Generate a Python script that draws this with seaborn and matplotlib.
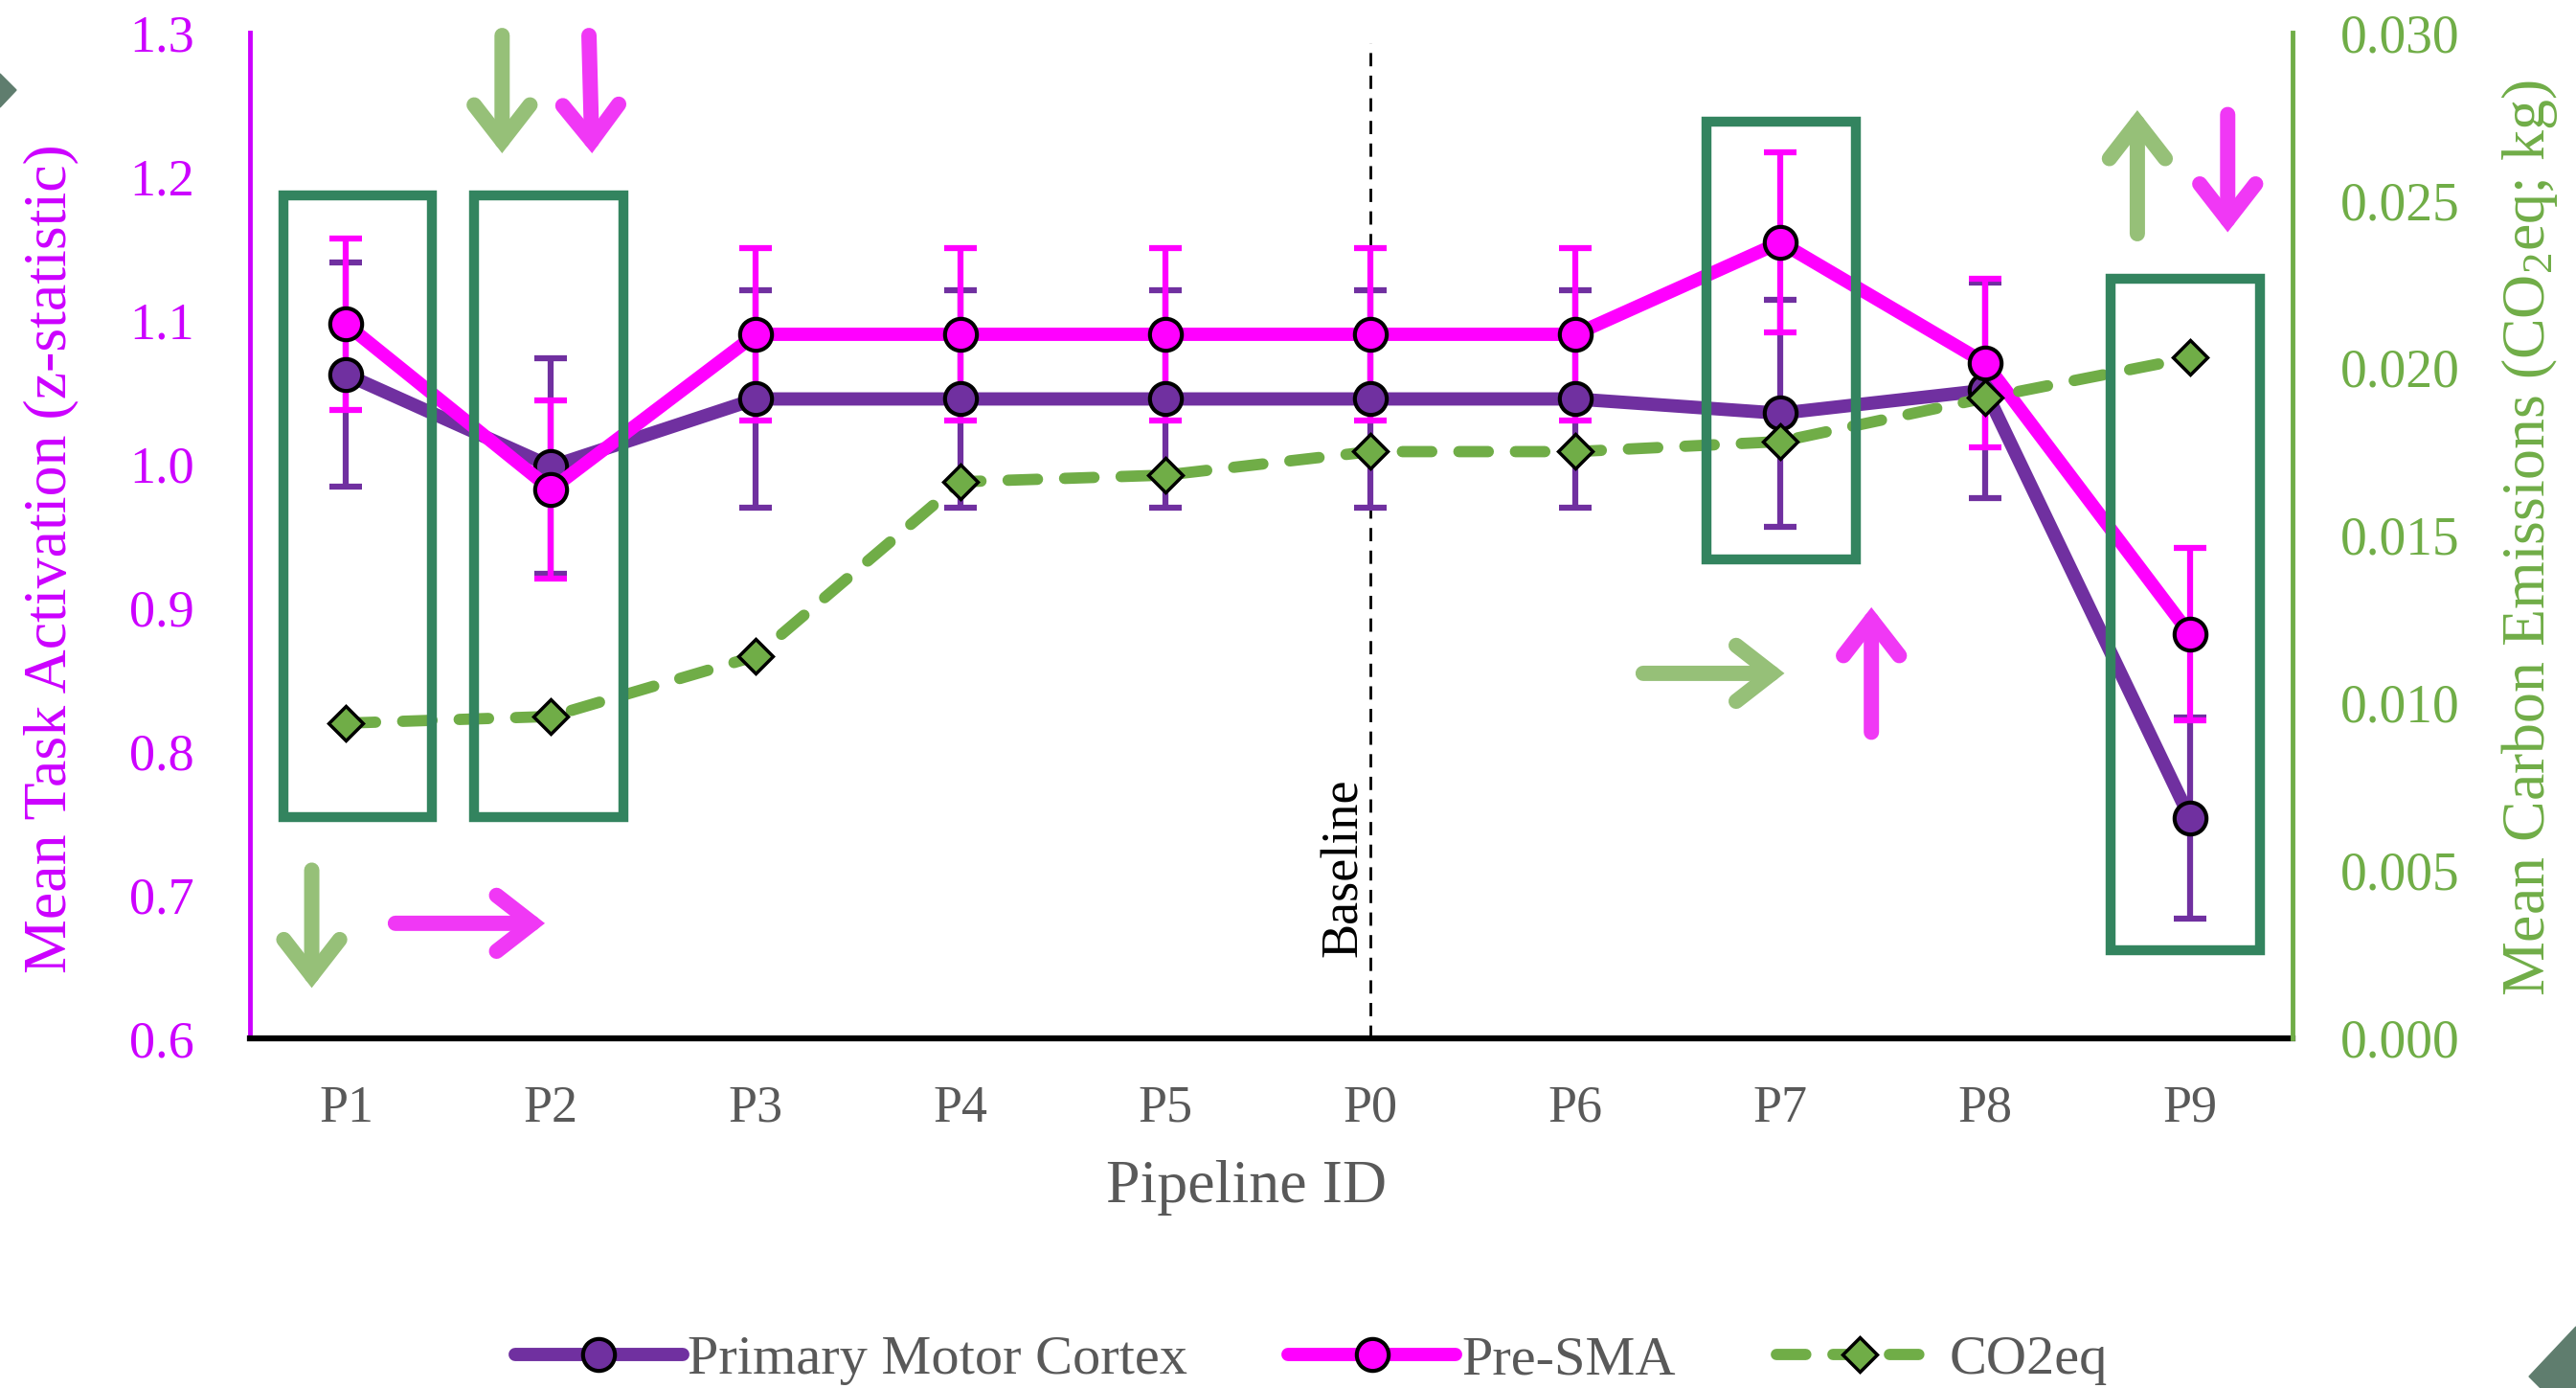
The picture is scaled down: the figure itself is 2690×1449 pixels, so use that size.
import numpy as np
import pandas as pd
import matplotlib
matplotlib.use("Agg")
import matplotlib.pyplot as plt
from matplotlib.ticker import FormatStrFormatter
from matplotlib.patches import Rectangle, Polygon, FancyArrowPatch, ArrowStyle
import seaborn as sns

# ---------------- data ----------------
pipelines = ["P1", "P2", "P3", "P4", "P5", "P0", "P6", "P7", "P8", "P9"]
pmc_mean = [1.062, 0.998, 1.045, 1.045, 1.045, 1.045, 1.045, 1.035, 1.051, 0.753]
pmc_err = [0.078, 0.075, 0.076, 0.076, 0.076, 0.076, 0.076, 0.079, 0.075, 0.070]
presma_mean = [1.097, 0.982, 1.090, 1.090, 1.090, 1.090, 1.090, 1.154, 1.070, 0.881]
presma_err = [0.060, 0.062, 0.060, 0.060, 0.060, 0.060, 0.060, 0.063, 0.059, 0.060]
co2_mean = [0.0094, 0.0096, 0.0114, 0.0166, 0.0168, 0.0175, 0.0175, 0.0178, 0.0191, 0.0203]

left_ticks = [0.6, 0.7, 0.8, 0.9, 1.0, 1.1, 1.2, 1.3]
right_ticks = [0.000, 0.005, 0.010, 0.015, 0.020, 0.025, 0.030]

series_labels = ["Primary Motor Cortex", "Pre-SMA", "CO2eq"]

# annotation boxes (x, y, width, height) in left-axis data units
boxes = [(-0.305, 0.754, 0.722, 0.433),
         (0.625, 0.754, 0.729, 0.433),
         (6.64, 0.933, 0.73, 0.305),
         (8.61, 0.661, 0.73, 0.468)]

# annotation arrows (x0, y0, x1, y1, kind)
arrows = [(0.761, 1.298, 0.761, 1.216, "g"),
          (1.185, 1.298, 1.200, 1.216, "m"),
          (-0.168, 0.717, -0.168, 0.635, "g"),
          (0.240, 0.680, 0.970, 0.680, "m"),
          (6.33, 0.854, 7.02, 0.854, "g"),
          (7.444, 0.813, 7.444, 0.900, "m"),
          (8.742, 1.160, 8.742, 1.246, "g"),
          (9.183, 1.243, 9.183, 1.161, "m")]

# ---------------- style ----------------
sns.set_theme(style="white")
plt.rcParams["font.family"] = ["Liberation Serif", "DejaVu Serif"]
plt.rcParams["mathtext.fontset"] = "custom"
plt.rcParams["mathtext.rm"] = "Liberation Serif"
plt.rcParams["mathtext.it"] = "Liberation Serif:italic"
plt.rcParams["mathtext.bf"] = "Liberation Serif:bold"

PURPLE = "#7030A0"
MAGENTA = "#FF00FF"
GREEN = "#70AD47"
AXIS_MAG = "#CC00FF"
GRAY = "#595959"
BOX = "#33845F"
ARR = {"g": "#96C078", "m": "#F038F5"}
DECO = "#5F7D6E"

fig = plt.figure(figsize=(26.9, 14.49), dpi=100)
ax1 = fig.add_axes([0.097, 0.252, 0.793, 0.7245])
ax2 = ax1.twinx()

df = pd.DataFrame({
    "pos": np.arange(len(pipelines)),
    "Pipeline": pipelines,
    "pmc": pmc_mean,
    "presma": presma_mean,
    "co2": co2_mean,
})

# error bars
ax1.errorbar(df["pos"], pmc_mean, yerr=pmc_err, fmt="none", ecolor=PURPLE,
             elinewidth=4.5, capsize=12, capthick=4.5, zorder=2)
ax1.errorbar(df["pos"], presma_mean, yerr=presma_err, fmt="none", ecolor=MAGENTA,
             elinewidth=4.5, capsize=12, capthick=4.5, zorder=2.5)

# lines
sns.lineplot(data=df, x="pos", y="pmc", ax=ax1, color=PURPLE, linewidth=10,
             marker="o", markersize=24, markeredgecolor="black", markeredgewidth=3,
             sort=False, label=series_labels[0], zorder=3)
sns.lineplot(data=df, x="pos", y="presma", ax=ax1, color=MAGENTA, linewidth=10,
             marker="o", markersize=24, markeredgecolor="black", markeredgewidth=3,
             sort=False, label=series_labels[1], zorder=3.5)
sns.lineplot(data=df, x="pos", y="co2", ax=ax2, color=GREEN, linewidth=8.5,
             marker="D", markersize=18, markeredgecolor="black", markeredgewidth=2.5,
             markerfacecolor=GREEN, sort=False, label=series_labels[2], zorder=3)
co2_line = ax2.lines[-1]
co2_line.set_dashes((2.6, 2.4))
co2_line.set_dash_capstyle("round")

for ax in (ax1, ax2):
    leg = ax.get_legend()
    if leg is not None:
        leg.remove()
    ax.grid(False)

# baseline marker
ax1.axvline(x=pipelines.index("P0"), ymin=0, ymax=0.99, color="black", lw=2,
            linestyle=(0, (5, 3.5)), zorder=1.5)
ax1.text(4.872, 0.719, "Baseline", rotation=90, ha="center", va="center",
         fontsize=39, color="black", zorder=6)

# annotation boxes
for (x, y, w, h) in boxes:
    ax2.add_artist(Rectangle((x, y), w, h, transform=ax1.transData, fill=False,
                             edgecolor=BOX, lw=7.5, zorder=10, clip_on=False))

# annotation arrows
for (x0, y0, x1, y1, k) in arrows:
    arr = FancyArrowPatch((x0, y0), (x1, y1), transform=ax1.transData,
                          arrowstyle=ArrowStyle("->", head_length=27, head_width=21),
                          mutation_scale=1, lw=11.5, color=ARR[k],
                          joinstyle="miter", capstyle="round",
                          shrinkA=0, shrinkB=0, clip_on=False, zorder=11)
    ax2.add_artist(arr)

# axes limits and ticks
ax1.set_xlim(-0.47, 9.5)
ax1.set_ylim(left_ticks[0], left_ticks[-1])
ax2.set_ylim(right_ticks[0], right_ticks[-1])
ax1.set_xticks(df["pos"])
ax1.set_xticklabels(pipelines)
ax1.set_yticks(left_ticks)
ax2.set_yticks(right_ticks)
ax1.yaxis.set_major_formatter(FormatStrFormatter("%.1f"))
ax2.yaxis.set_major_formatter(FormatStrFormatter("%.3f"))

ax1.tick_params(axis="y", labelcolor=AXIS_MAG, labelsize=39, length=0, pad=42)
ax1.tick_params(axis="x", labelcolor=GRAY, labelsize=39, length=0, pad=35)
ax2.tick_params(axis="y", labelcolor=GREEN, labelsize=40, length=0, pad=36)

# spines
for s in ("top", "right"):
    ax1.spines[s].set_visible(False)
ax1.spines["left"].set_color(AXIS_MAG)
ax1.spines["left"].set_linewidth(3.5)
ax1.spines["bottom"].set_color("black")
ax1.spines["bottom"].set_linewidth(4.5)
for s in ("top", "left", "bottom"):
    ax2.spines[s].set_visible(False)
ax2.spines["right"].set_color(GREEN)
ax2.spines["right"].set_linewidth(3.5)

# labels
ax1.set_ylabel("Mean Task Activation (z-statistic)", color=AXIS_MAG, fontsize=46)
ax1.yaxis.set_label_coords(-0.0839, 0.477)
ax2.set_ylabel(r"Mean Carbon Emissions (CO$_{2}$eq; kg)", color=GREEN, fontsize=46)
ax2.yaxis.set_label_coords(1.101, 0.497)
ax1.set_xlabel("Pipeline ID", color=GRAY, fontsize=46)
ax1.xaxis.set_label_coords(0.488, -0.121)

# legend
h1, l1 = ax1.get_legend_handles_labels()
h2, l2 = ax2.get_legend_handles_labels()
fig.legend(h1 + h2, l1 + l2, loc="center", bbox_to_anchor=(0.509, 0.020), ncol=3,
           frameon=False, fontsize=42, handlelength=3.0, handletextpad=0.1,
           columnspacing=1.8, labelcolor=GRAY)

# slide corner decorations
W, H = 2690.0, 1449.0
fig.add_artist(Polygon([[0, 1 - 77 / H], [17 / W, 1 - 94 / H], [0, 1 - 112 / H]],
                       closed=True, transform=fig.transFigure, color=DECO))
fig.add_artist(Polygon([[1, (H - 1385) / H], [2641 / W, (H - 1437) / H],
                        [2653 / W, 0], [1, 0]],
                       closed=True, transform=fig.transFigure, color=DECO))

fig.savefig("out.png", dpi=100)
